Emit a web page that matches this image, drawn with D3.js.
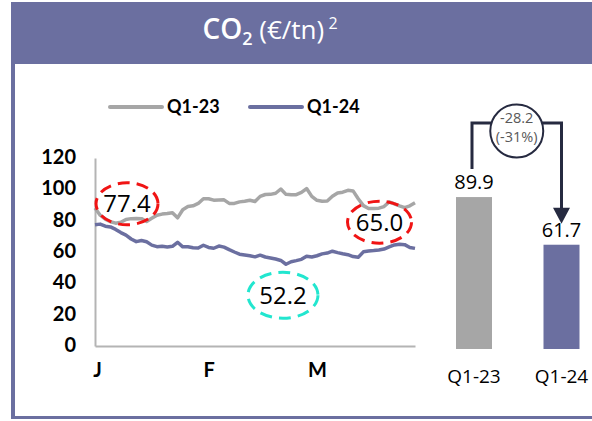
<!DOCTYPE html>
<html>
<head>
<meta charset="utf-8">
<script src="https://cdn.jsdelivr.net/npm/d3@7"></script>
<style>
  html, body { margin: 0; padding: 0; background: #fff; }
  svg { display: block; }
</style>
</head>
<body>
<svg id="chart" width="592" height="421"></svg>
<script>
// ---- Data ----
const seriesNames = ["Q1-23", "Q1-24"];

// Daily CO2 price (€/tn), Q1-2023, one value per trading day
const q123Values = [
  88.1, 83.5, 81.0, 79.3, 78.4, 79.0, 80.8, 81.3, 81.4, 81.3,
  79.5, 81.5, 83.5, 84.2, 84.6, 85.1, 81.8, 87.0, 89.0, 89.5,
  91.0, 94.0, 94.0, 93.1, 93.2, 93.3, 91.0, 91.0, 92.0, 92.4,
  93.0, 92.2, 95.5, 96.7, 96.8, 97.5, 100.2, 96.8, 96.6, 96.6,
  98.0, 100.5, 95.5, 93.0, 92.4, 92.6, 95.6, 97.7, 98.2, 99.4,
  99.0, 94.0, 89.6, 87.7, 87.7, 88.0, 89.0, 92.0, 90.7, 89.4,
  88.3, 89.5, 91.4
];

// Daily CO2 price (€/tn), Q1-2024, one value per trading day
const q124Values = [
  77.4, 77.8, 76.5, 76.0, 74.4, 72.4, 70.8, 68.3, 66.6, 67.3,
  66.5, 64.4, 63.4, 63.6, 63.2, 63.6, 66.2, 63.3, 63.3, 62.7,
  62.5, 64.3, 62.9, 62.4, 63.8, 63.1, 61.5, 60.0, 58.6, 58.1,
  57.6, 56.9, 58.0, 56.8, 56.2, 55.5, 54.6, 52.2, 53.8, 54.5,
  55.3, 57.3, 56.8, 57.6, 58.8, 59.3, 60.5, 59.6, 58.9, 58.3,
  57.1, 56.6, 60.1, 60.6, 60.9, 61.3, 61.9, 63.3, 64.5, 65.0,
  64.7, 62.9, 62.3
];

// Month labels and the trading-day index where each month starts
const monthLabels = ["J", "F", "M"];
const monthStartIndex = [0, 22, 43];

const yTickValues = [0, 20, 40, 60, 80, 100, 120];

// Quarterly averages
const quarterLabels = ["Q1-23", "Q1-24"];
const quarterAverages = [89.9, 61.7];
const changeLabel = ["-28.2", "(-31%)"];

// Highlighted values on the daily chart
const calloutStart = 77.4;
const calloutMin = 52.2;
const calloutPeak = 65.0;

// ---- Styles ----
const purple = "#6b6fa0";
const grey = "#a6a6a6";
const navy = "#262a40";
const boldFont = "Lato, 'Open Sans', sans-serif";
const textFont = "'Open Sans', 'Noto Sans', sans-serif";

const svg = d3.select("#chart");

// ---- Frame and header ----
svg.append("rect").attr("x", 11).attr("y", 2).attr("width", 581).attr("height", 62).attr("fill", purple);
svg.append("rect").attr("x", 11).attr("y", 64).attr("width", 4).attr("height", 355).attr("fill", purple);
svg.append("rect").attr("x", 11).attr("y", 416).attr("width", 581).attr("height", 3).attr("fill", purple);

const title = svg.append("text")
  .attr("y", 39)
  .attr("fill", "#fff")
  .attr("font-family", textFont);
title.append("tspan").attr("font-size", 28).attr("font-weight", 600).text("CO");
title.append("tspan").attr("font-size", 18).attr("font-weight", 600).attr("dy", 6).text("2");
title.append("tspan").attr("font-size", 26).attr("dy", -6).text(" (€/tn)");
title.append("tspan").attr("font-size", 16).attr("dy", -10).text(" 2");
const tb = title.node().getBBox();
title.attr("x", 270 - tb.width / 2);

// ---- Daily price chart ----
const x = d3.scaleLinear().domain([0, q124Values.length - 1]).range([95, 415]);
const y = d3.scaleLinear().domain([0, 120]).range([346, 158]);

// each year's trading days spread across the same quarter width
const xFor = (values) => (d, i) => x(i * (q124Values.length - 1) / (values.length - 1));

// axes
const yAxis = d3.axisLeft(y).tickValues(yTickValues).tickSize(0).tickPadding(19);
const gy = svg.append("g").attr("transform", "translate(95,0)").call(yAxis);
gy.select(".domain").attr("stroke", "#b4b4b4").attr("stroke-width", 2);
gy.selectAll("text")
  .attr("font-family", boldFont).attr("font-weight", 700).attr("font-size", 20)
  .attr("fill", "#000").attr("dy", "0.28em");

const xAxis = d3.axisBottom(x).tickValues(monthStartIndex)
  .tickFormat((d, i) => monthLabels[i]).tickSize(0).tickPadding(17);
const gx = svg.append("g").attr("transform", "translate(0,346)").call(xAxis);
gx.select(".domain").attr("stroke", "#b4b4b4").attr("stroke-width", 2);
gx.selectAll("text")
  .attr("font-family", boldFont).attr("font-weight", 700).attr("font-size", 20)
  .attr("fill", "#000");
gx.selectAll(".tick").filter((d, i) => i === 0).select("text").attr("dx", 2);

// lines
const line23 = d3.line().x(xFor(q123Values)).y(d => y(d)).curve(d3.curveLinear);
const line24 = d3.line().x(xFor(q124Values)).y(d => y(d)).curve(d3.curveLinear);

svg.append("path").datum(q123Values).attr("d", line23)
  .attr("fill", "none").attr("stroke", grey).attr("stroke-width", 3.5).attr("stroke-linejoin", "round");
svg.append("path").datum(q124Values).attr("d", line24)
  .attr("fill", "none").attr("stroke", purple).attr("stroke-width", 3.5).attr("stroke-linejoin", "round");

// legend
const legendColors = [grey, purple];
const legend = svg.append("g");
seriesNames.forEach((name, i) => {
  const lx = 110 + i * 140;
  legend.append("line").attr("x1", lx).attr("x2", lx + 52).attr("y1", 107).attr("y2", 107)
    .attr("stroke", legendColors[i]).attr("stroke-width", 4).attr("stroke-linecap", "round");
  legend.append("text").attr("x", lx + 57).attr("y", 107).attr("dy", "0.36em")
    .attr("font-family", boldFont).attr("font-weight", 700).attr("font-size", 18)
    .attr("fill", "#000").text(name);
});

// call-outs
function callout(cx, cy, rx, ry, color, value) {
  svg.append("ellipse").attr("cx", cx).attr("cy", cy).attr("rx", rx).attr("ry", ry)
    .attr("fill", "none").attr("stroke", color).attr("stroke-width", 3)
    .attr("stroke-dasharray", "12 7");
  svg.append("text").attr("x", cx).attr("y", cy).attr("dy", "0.36em")
    .attr("text-anchor", "middle").attr("font-family", textFont).attr("font-size", 24)
    .attr("fill", "#000").text(value.toFixed(1));
}
const iStart = q124Values.indexOf(calloutStart);
const iMin = q124Values.indexOf(calloutMin);
const iPeak = q124Values.indexOf(calloutPeak);
callout(x(iStart) + 32, y(calloutStart) - 21, 31, 21, "#f01414", calloutStart);
callout(x(iMin) - 3, y(calloutMin) + 31, 35, 23, "#22e6cf", calloutMin);
callout(x(iPeak) - 20, y(calloutPeak) - 22, 32, 21, "#f01414", calloutPeak);

// ---- Quarterly average bars ----
const xb = d3.scaleBand().domain(quarterLabels).range([429.75, 605.75]).paddingInner(0.5886).paddingOuter(0.3);
const yb = d3.scaleLinear().domain([0, 100]).range([349, 180]);
const barColors = [grey, purple];

svg.selectAll("rect.bar").data(quarterAverages).enter().append("rect")
  .attr("class", "bar")
  .attr("x", (d, i) => xb(quarterLabels[i]))
  .attr("y", d => yb(d))
  .attr("width", xb.bandwidth())
  .attr("height", d => yb(0) - yb(d))
  .attr("fill", (d, i) => barColors[i]);

svg.selectAll("text.barval").data(quarterAverages).enter().append("text")
  .attr("class", "barval")
  .attr("x", (d, i) => xb(quarterLabels[i]) + xb.bandwidth() / 2)
  .attr("y", d => yb(d) - 8)
  .attr("text-anchor", "middle").attr("font-family", textFont).attr("font-size", 20)
  .attr("fill", "#000").text(d => d.toFixed(1));

svg.selectAll("text.barcat").data(quarterLabels).enter().append("text")
  .attr("class", "barcat")
  .attr("x", d => xb(d) + xb.bandwidth() / 2)
  .attr("y", 376).attr("dy", "0.36em")
  .attr("text-anchor", "middle").attr("font-family", textFont).attr("font-size", 19)
  .attr("fill", "#000").text(d => d);

// change connector
const cxL = xb(quarterLabels[0]) + xb.bandwidth() / 2 - 2;
const cxR = xb(quarterLabels[1]) + xb.bandwidth() / 2;
const topY = 123;
const leftBottom = yb(quarterAverages[0]) - 28;
const tipY = yb(quarterAverages[1]) - 21;
svg.append("path")
  .attr("d", `M${cxL},${leftBottom}V${topY}H${cxR}V${tipY - 14}`)
  .attr("fill", "none").attr("stroke", navy).attr("stroke-width", 3);
svg.append("path")
  .attr("d", `M${cxR},${tipY}L${cxR - 8.5},${tipY - 16}L${cxR + 8.5},${tipY - 16}Z`)
  .attr("fill", navy);

const circX = (cxL + cxR) / 2;
svg.append("circle").attr("cx", circX).attr("cy", 131).attr("r", 26.5)
  .attr("fill", "#fff").attr("stroke", navy).attr("stroke-width", 2);
changeLabel.forEach((t, i) => {
  svg.append("text").attr("x", circX).attr("y", 117.5 + i * 19.5).attr("dy", "0.36em")
    .attr("text-anchor", "middle").attr("font-family", textFont).attr("font-size", 14.5)
    .attr("fill", "#595959").text(t);
});
</script>
</body>
</html>
